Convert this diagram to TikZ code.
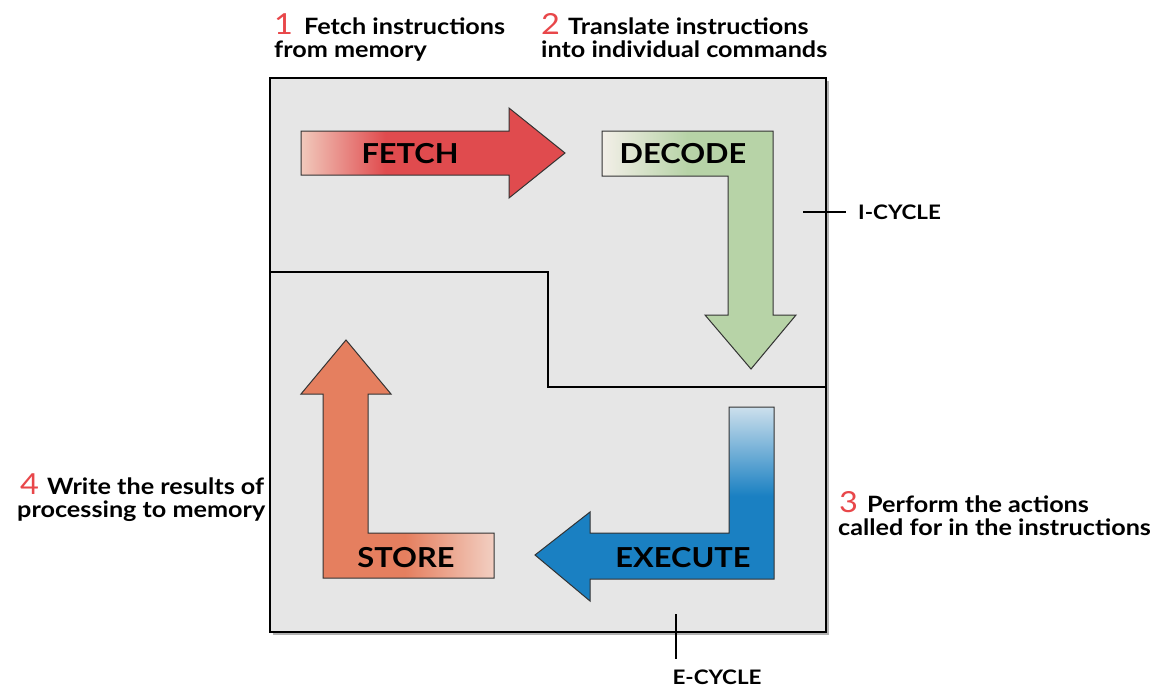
\documentclass[tikz,border=0pt]{standalone}
\usepackage{fontspec}
\setmainfont{Lato}[FakeStretch=1.12]
\definecolor{boxfill}{HTML}{E6E6E6}
\definecolor{numred}{HTML}{E8474A}
\definecolor{fetchL}{HTML}{F1C9BC}
\definecolor{fetchR}{HTML}{E04B4E}
\definecolor{decL}{HTML}{F3EFE8}
\definecolor{decR}{HTML}{B7D3A7}
\definecolor{stoL}{HTML}{F2CFC2}
\definecolor{stoR}{HTML}{E57F5F}
\definecolor{exeL}{HTML}{CCDFEC}
\definecolor{exeR}{HTML}{1A80C2}
\pgfdeclarehorizontalshading{fetchsh}{100bp}{color(0bp)=(fetchL); color(25bp)=(fetchL); color(41bp)=(fetchR); color(100bp)=(fetchR)}
\pgfdeclarehorizontalshading{decsh}{100bp}{color(0bp)=(decL); color(25bp)=(decL); color(47bp)=(decR); color(100bp)=(decR)}
\pgfdeclarehorizontalshading{stosh}{100bp}{color(0bp)=(stoR); color(52bp)=(stoR); color(75bp)=(stoL); color(100bp)=(stoL)}
\pgfdeclareverticalshading{exesh}{100bp}{color(0bp)=(exeR); color(52bp)=(exeR); color(75bp)=(exeL); color(100bp)=(exeL)}
\begin{document}
\begin{tikzpicture}[x=1pt,y=-1pt,
  lbl/.style={inner sep=0pt, anchor=base west, font=\fontsize{22.5}{26}\selectfont\bfseries},
  num/.style={inner sep=0pt, anchor=base west, text=numred, font=\fontsize{29}{30}\selectfont},
  arrowtxt/.style={inner sep=0pt, font=\fontsize{27.5}{30}\selectfont\bfseries},
  cyc/.style={inner sep=0pt, font=\fontsize{20}{24}\selectfont\bfseries},
  bigarrow/.style={draw=black!80, line width=1pt, line join=miter}]
\useasboundingbox (0,0) rectangle (1166,693);
% box with shadow
\fill[black!30] (273,81) rectangle (829,635);
\draw[line width=2.5pt, fill=boxfill] (270,78) rectangle (826,632);
% divider
\draw[line width=2pt] (270,272) -- (548,272) -- (548,387) -- (827,387);
% arrows
\path[bigarrow, shading=fetchsh] (301,131) -- (509,131) -- (509,108) -- (565,153) -- (509,198) -- (509,175) -- (301,175) -- cycle;
\path[bigarrow, shading=decsh] (602,131) -- (773,131) -- (773,315) -- (796,315) -- (751,369) -- (705,315) -- (728,315) -- (728,176) -- (602,176) -- cycle;
\path[bigarrow, shading=stosh] (346,340) -- (391,394) -- (368,394) -- (368,533) -- (494,533) -- (494,578) -- (323,578) -- (323,394) -- (301,394) -- cycle;
\path[bigarrow, shading=exesh] (729,407) -- (774,407) -- (774,579) -- (590,579) -- (590,601) -- (535,555) -- (590,512) -- (590,533) -- (729,533) -- cycle;
\node[arrowtxt] (fetch) at (410,154) {FETCH};
\node[arrowtxt] (decode) at (683,154) {DECODE};
\node[arrowtxt] (store) at (406,558) {STORE};
\node[arrowtxt] (execute) at (683,558) {EXECUTE};
% cycle ticks
\node[cyc, anchor=west] (icyc) at (858,212) {I-CYCLE};
\coordinate (itick) at (803,212);
\draw[line width=1.2pt] (itick) -- (icyc.west -| 846,0);
\node[cyc, anchor=north] (ecyc) at (717,670) {E-CYCLE};
\coordinate (etick) at (676,614);
\draw[line width=1.2pt] (etick) -- (676,659);
% labels
\node[num] (n1) at (274,35) {1};
\node[lbl] (l1a) at (304,35) {Fetch instructions};
\node[lbl] (l1b) at (274,58) {from memory};
\node[num] (n2) at (541,35) {2};
\node[lbl] (l2a) at (568,35) {Translate instructions};
\node[lbl] (l2b) at (541,58) {into individual commands};
\node[num] (n3) at (839,512) {3};
\node[lbl] (l3a) at (867,512) {Perform the actions};
\node[lbl] (l3b) at (838,535) {called for in the instructions};
\node[num] (n4) at (20,494) {4};
\node[lbl] (l4a) at (47,494) {Write the results of};
\node[lbl] (l4b) at (17,517) {processing to memory};
\end{tikzpicture}
\end{document}
